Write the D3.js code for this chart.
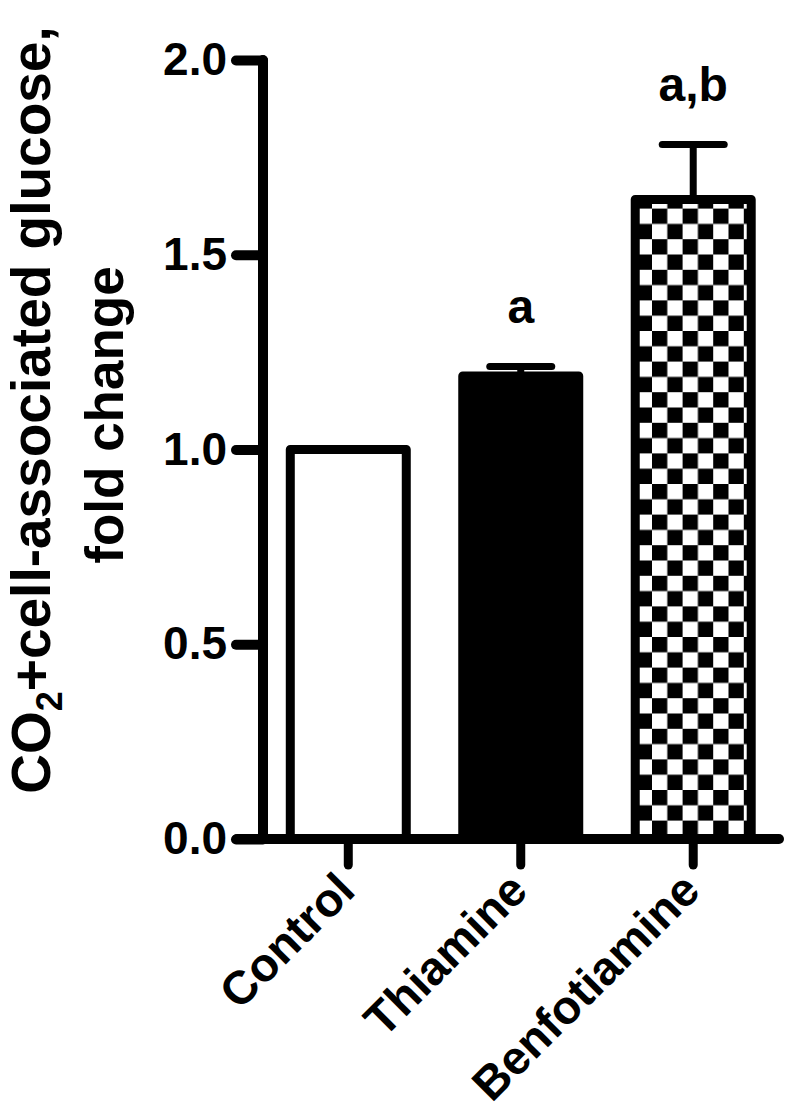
<!DOCTYPE html>
<html>
<head>
<meta charset="utf-8">
<script src="https://cdn.jsdelivr.net/npm/d3@7/dist/d3.min.js"></script>
<style>
html,body{margin:0;padding:0;background:#fff;}
svg{display:block;}
text{font-family:"Liberation Sans",Arial,Helvetica,sans-serif;font-weight:bold;fill:#000;}
</style>
</head>
<body>
<script>
// ---- data ----
const categories = ["Control", "Thiamine", "Benfotiamine"];
const means = [1.0, 1.189, 1.642];
const errors = [0.0, 0.024, 0.141];
const annotations = ["", "a", "a,b"];
const fills = ["white", "black", "checker"];
const yTicks = [0.0, 0.5, 1.0, 1.5, 2.0];
const yTickLabels = ["0.0", "0.5", "1.0", "1.5", "2.0"];

const W = 787, H = 1111;
const svg = d3.select("body").append("svg").attr("width", W).attr("height", H);

// checkerboard pattern
const cell = 15.3;
const pat = svg.append("defs").append("pattern")
  .attr("id", "checker").attr("patternUnits", "userSpaceOnUse")
  .attr("x", 652).attr("y", 790).attr("width", cell * 2).attr("height", cell * 2);
pat.append("rect").attr("width", cell * 2).attr("height", cell * 2).attr("fill", "white");
pat.append("rect").attr("x", 0).attr("y", 0).attr("width", cell).attr("height", cell).attr("fill", "black");
pat.append("rect").attr("x", cell).attr("y", cell).attr("width", cell).attr("height", cell).attr("fill", "black");

const y = d3.scaleLinear().domain([0, 2]).range([839, 60]);
const x = d3.scaleBand().domain(categories).range([262, 779.5]).paddingInner(0.3275).paddingOuter(0.164);

// bars
const g = svg.append("g");
categories.forEach((c, i) => {
  const fill = fills[i] === "checker" ? "url(#checker)" : fills[i];
  g.append("rect")
    .attr("x", x(c)).attr("y", y(means[i]))
    .attr("width", x.bandwidth()).attr("height", y(0) - y(means[i]))
    .attr("fill", fill).attr("stroke", "black").attr("stroke-width", 9)
    .attr("stroke-linejoin", "round");
  const cx = x(c) + x.bandwidth() / 2;
  if (errors[i] > 0) {
    g.append("line").attr("x1", cx).attr("x2", cx)
      .attr("y1", y(means[i])).attr("y2", y(means[i] + errors[i]))
      .attr("stroke", "black").attr("stroke-width", 7);
    g.append("line").attr("x1", cx - 31).attr("x2", cx + 31)
      .attr("y1", y(means[i] + errors[i])).attr("y2", y(means[i] + errors[i]))
      .attr("stroke", "black").attr("stroke-width", 7).attr("stroke-linecap", "round");
  }
  if (annotations[i]) {
    g.append("text").attr("x", cx).attr("y", y(means[i] + errors[i]) - 44)
      .attr("text-anchor", "middle").attr("font-size", 48).text(annotations[i]);
  }
});

// y axis
const yAxis = d3.axisLeft(y).tickValues(yTicks).tickSize(27).tickPadding(9)
  .tickFormat((d, i) => yTickLabels[i]);
const ya = svg.append("g").attr("transform", "translate(263,0)").call(yAxis);
ya.select(".domain").remove();
ya.selectAll(".tick line").attr("stroke", "black").attr("stroke-width", 10).attr("stroke-linecap", "round");
ya.selectAll(".tick text").attr("font-size", 46).attr("font-family", "Liberation Sans, Arial, sans-serif")
  .attr("font-weight", "bold").attr("fill", "black");
ya.append("line").attr("x1", 0).attr("x2", 0).attr("y1", y(2)).attr("y2", y(0))
  .attr("stroke", "black").attr("stroke-width", 10).attr("stroke-linecap", "round");

// x axis
const xAxis = d3.axisBottom(x).tickSize(26).tickSizeOuter(0).tickFormat("");
const xa = svg.append("g").attr("transform", "translate(0,839)").call(xAxis);
xa.select(".domain").remove();
xa.selectAll(".tick line").attr("stroke", "black").attr("stroke-width", 9).attr("stroke-linecap", "round");
xa.append("line").attr("x1", 237).attr("x2", 779).attr("y1", 0).attr("y2", 0)
  .attr("stroke", "black").attr("stroke-width", 10).attr("stroke-linecap", "round");
categories.forEach(c => {
  const cx = x(c) + x.bandwidth() / 2;
  svg.append("text")
    .attr("transform", `translate(${cx + 9},${893}) rotate(-45)`)
    .attr("text-anchor", "end").attr("font-size", 47).text(c);
});

// y title
const l1 = svg.append("text").attr("transform", "rotate(-90)").attr("text-anchor", "middle")
  .attr("font-size", 55).attr("x", -410).attr("y", 50);
l1.append("tspan").text("CO");
l1.append("tspan").attr("font-size", 36).attr("dy", 12).text("2");
l1.append("tspan").attr("dy", -12).text("+cell-associated glucose,");
svg.append("text").attr("transform", "rotate(-90)").attr("text-anchor", "middle")
  .attr("font-size", 53).attr("x", -415).attr("y", 123).text("fold change");
</script>
</body>
</html>
